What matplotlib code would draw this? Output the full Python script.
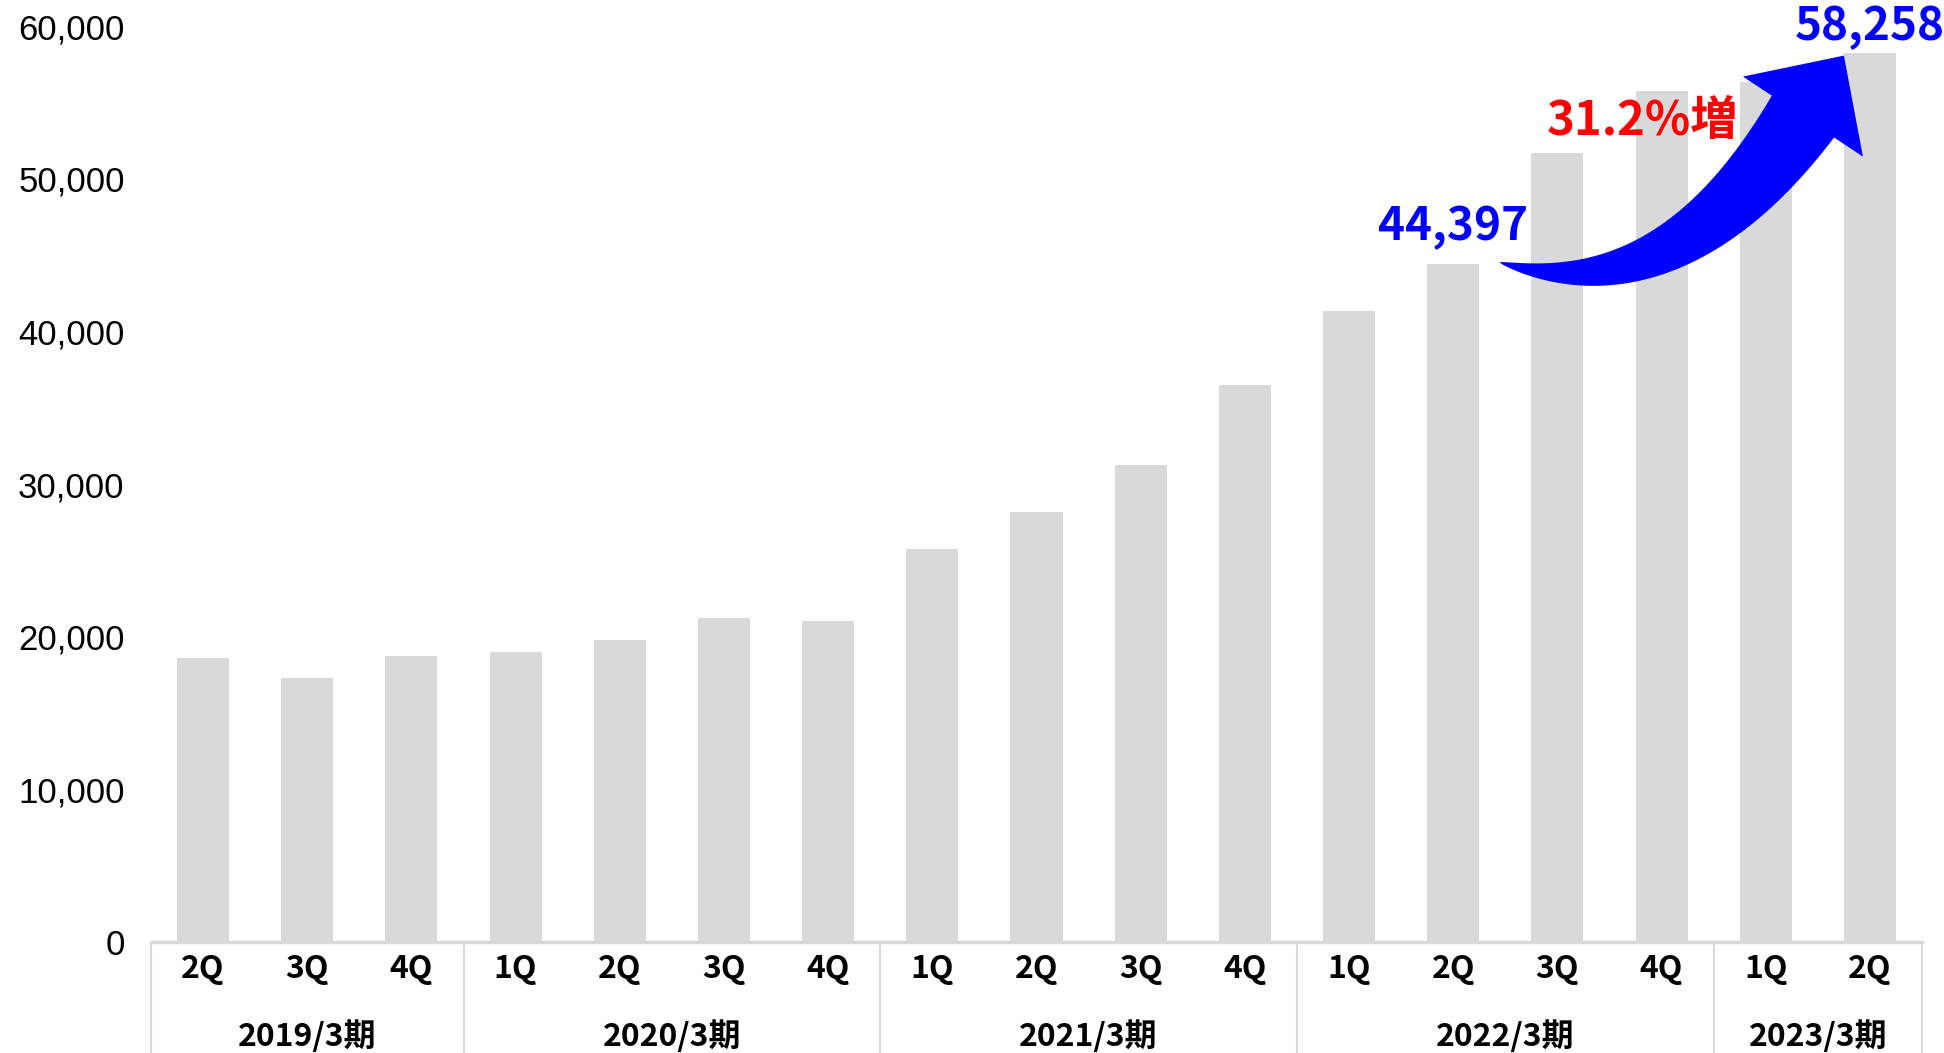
import numpy as np
import matplotlib.pyplot as plt
from matplotlib.patches import Polygon
from matplotlib.transforms import blended_transform_factory

plt.rcParams['font.family'] = ['Noto Sans CJK JP', 'DejaVu Sans']

# データ
quarters = ['2Q', '3Q', '4Q',
            '1Q', '2Q', '3Q', '4Q',
            '1Q', '2Q', '3Q', '4Q',
            '1Q', '2Q', '3Q', '4Q',
            '1Q', '2Q']
periods = ['2019/3期', '2020/3期', '2021/3期', '2022/3期', '2023/3期']
period_sizes = [3, 4, 4, 4, 2]
values = [18600, 17300, 18750, 19000, 19750, 21200, 21000,
          25750, 28150, 31250, 36500,
          41300, 44397, 51700, 55750,
          56300, 58258]
y_ticks = [0, 10000, 20000, 30000, 40000, 50000, 60000]
from_idx, to_idx = 12, 16

bar_color = '#D9D9D9'
line_color = '#D9D9D9'

fig = plt.figure(figsize=(19.44, 10.53), dpi=100)
ax = fig.add_axes([151 / 1944, 111 / 1053, 1771 / 1944, 916 / 1053])

x = np.arange(len(values))
ax.bar(x, values, width=0.5, color=bar_color, zorder=2)

ax.set_xlim(-0.5, len(values) - 0.5)
ax.set_ylim(y_ticks[0], y_ticks[-1])

# y軸
ax.set_yticks(y_ticks)
ax.set_yticklabels([f'{v:,}' for v in y_ticks], fontfamily='Liberation Sans', fontsize=25)
ax.tick_params(axis='y', length=0, pad=19)

# x軸 (四半期)
ax.set_xticks(x)
ax.set_xticklabels(quarters, fontsize=23, fontweight='bold')
ax.tick_params(axis='x', length=0, pad=8)

for side in ['top', 'right', 'left']:
    ax.spines[side].set_visible(False)
ax.spines['bottom'].set_color(line_color)
ax.spines['bottom'].set_linewidth(2.5)

# 期の区切り線とラベル
trans = blended_transform_factory(ax.transData, ax.transAxes)
bounds = np.concatenate([[0], np.cumsum(period_sizes)]) - 0.5
for b in bounds:
    ax.plot([b, b], [0, -0.2], transform=trans, color=line_color, lw=1.5, clip_on=False)
for name, lo, hi in zip(periods, bounds[:-1], bounds[1:]):
    ax.annotate(name, xy=((lo + hi) / 2, 0), xycoords=trans,
                xytext=(0, -68), textcoords='offset points',
                ha='center', va='center', fontsize=23, fontweight='bold',
                annotation_clip=False)

# 注記
v0, v1 = values[from_idx], values[to_idx]
ax.annotate(f'{v0:,}', xy=(from_idx, v0), xytext=(0, 27), textcoords='offset points',
            ha='center', va='center', fontsize=33, fontweight='bold', color='#0000FF', zorder=6)
ax.annotate(f'{v1:,}', xy=(to_idx, v1), xytext=(0, 18.5), textcoords='offset points',
            ha='center', va='center', fontsize=33, fontweight='bold', color='#0000FF',
            zorder=6, annotation_clip=False)
growth = (v1 / v0 - 1) * 100
ax.text(13.82, 53800, f'{growth:.1f}%増', ha='center', va='center',
        fontsize=34, fontweight='bold', color='#FF0000', zorder=6)

# 曲がった矢印 (表示座標で作って data 座標に戻す)
A = ax.transData.transform((from_idx, v0))
B = ax.transData.transform((to_idx, v1))
tail = A + np.array([46.0, 2.0])
tip = B + np.array([-26.0, -3.0])
base = B + np.array([-67.0, -64.0])
wing_l = B + np.array([-127.0, -24.0])
wing_r = B + np.array([-7.0, -104.0])

axis_dir = (tip - base) / np.linalg.norm(tip - base)
start_dir = np.array([1.0, -0.3])
start_dir /= np.linalg.norm(start_dir)
s, u = np.linalg.solve(np.column_stack([start_dir, axis_dir]), base - tail)
ctrl = tail + s * start_dir

t = np.linspace(0, 1, 80)[:, None]
curve = (1 - t) ** 2 * tail + 2 * (1 - t) * t * ctrl + t ** 2 * base
deriv = 2 * (1 - t) * (ctrl - tail) + 2 * t * (base - ctrl)
normal = np.column_stack([-deriv[:, 1], deriv[:, 0]])
normal /= np.linalg.norm(normal, axis=1)[:, None]
half_w = 37.5 * t ** 0.75
left = curve + normal * half_w
right = curve - normal * half_w
pts = np.vstack([left, [wing_l, tip, wing_r], right[::-1]])
pts = ax.transData.inverted().transform(pts)
ax.add_patch(Polygon(pts, closed=True, facecolor='#0000FF', edgecolor='none',
                     zorder=5, clip_on=False))

fig.savefig('out.png', dpi=100)
